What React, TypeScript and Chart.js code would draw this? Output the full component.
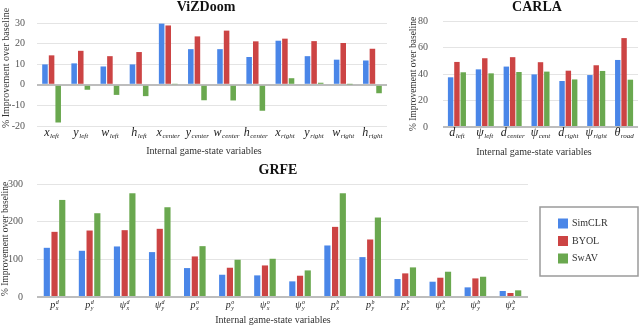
import React, { useEffect, useRef } from "react";
import { Chart, registerables } from "chart.js";

Chart.register(...registerables);

const SERIES = ["SimCLR", "BYOL", "SwAV"];
const COLORS = ["#4a86e8", "#cc4444", "#6aa84f"];

// ViZDoom
const vizCategories = ["x_left", "y_left", "w_left", "h_left", "x_center", "y_center", "w_center", "h_center", "x_right", "y_right", "w_right", "h_right"];
const vizSimCLR = [9.9, 10.4, 8.9, 9.9, 29.7, 17.3, 17.3, 13.5, 21.4, 13.9, 12.2, 11.8];
const vizBYOL = [14.3, 16.5, 13.9, 15.9, 28.8, 23.5, 26.3, 21.1, 22.4, 21.2, 20.3, 17.5];
const vizSwAV = [-18.3, -2.4, -4.9, -5.5, 0.3, -7.5, -7.6, -12.6, 3.2, 1.0, 0.2, -4.1];
const vizTicks = [-20, -10, 0, 10, 20, 30];

// CARLA
const carlaCategories = ["d_left", "ψ_left", "d_center", "ψ_cent", "d_right", "ψ_right", "θ_road"];
const carlaSimCLR = [37.5, 43.5, 45.6, 39.7, 34.7, 39.2, 50.6];
const carlaBYOL = [49.1, 51.9, 52.7, 48.9, 42.5, 46.6, 67.1];
const carlaSwAV = [41.3, 40.5, 41.5, 41.8, 35.9, 42.3, 35.7];
const carlaTicks = [0, 20, 40, 60, 80];

// GRFE
const grfeCategories = ["p_x^d", "p_y^d", "ψ_x^d", "ψ_y^d", "p_x^o", "p_y^o", "ψ_x^o", "ψ_y^o", "p_x^b", "p_y^b", "p_z^b", "ψ_x^b", "ψ_y^b", "ψ_z^b"];
const grfeSimCLR = [130.6, 122.7, 134.2, 119.2, 76.8, 59.1, 57.4, 41.5, 136.8, 105.9, 47.7, 40.6, 25.6, 15.9];
const grfeBYOL = [173, 176.5, 177.4, 181, 107.7, 77.7, 83.8, 56.5, 186.2, 152.7, 62.7, 51.2, 49.4, 10.6];
const grfeSwAV = [257.7, 222.4, 275.4, 238.3, 135, 98.9, 101.5, 70.6, 275.4, 211, 78.6, 67.1, 53.8, 17.7];
const grfeTicks = [0, 100, 200, 300];

const Y_TITLE = "% Improvement over baseline";
const X_TITLE = "Internal game-state variables";
const SERIF = '"Liberation Serif", "DejaVu Serif", serif';

function parseLabel(s: string) {
  const base = s[0];
  let sub = "";
  let sup = "";
  const m1 = s.match(/_([^\^]*)/);
  const m2 = s.match(/\^(.*)$/);
  if (m1) sub = m1[1];
  if (m2) sup = m2[1];
  return { base, sub, sup };
}

type Spec = {
  title: string;
  categories: string[];
  series: number[][];
  ticks: number[];
  left: number;
  top: number;
  width: number;
  height: number;
  padTop: number;
  padRight: number;
  yW: number;
  xH: number;
  tickPad: number;
  catPct: number;
  barPct: number;
  titlePos: [number, number];
  xTitlePos: [number, number];
  yTitlePos: [number, number];
  yTitleSize: number;
  labelY: number;
  mainSize: number;
  subSize: number;
  legend?: [number, number, number, number];
};

function BarChart({ spec }: { spec: Spec }) {
  const ref = useRef<HTMLCanvasElement>(null);
  useEffect(() => {
    const s = spec;
    const textPlugin = {
      id: "texts",
      afterDraw(chart: any) {
        const ctx = chart.ctx;
        ctx.save();
        // chart title
        ctx.fillStyle = "#111";
        ctx.font = `bold 14px ${SERIF}`;
        ctx.textAlign = "center";
        ctx.textBaseline = "middle";
        ctx.fillText(s.title, s.titlePos[0], s.titlePos[1]);
        // x title
        ctx.fillStyle = "#333";
        ctx.font = `10px ${SERIF}`;
        ctx.fillText(X_TITLE, s.xTitlePos[0], s.xTitlePos[1]);
        // y title
        ctx.save();
        ctx.translate(s.yTitlePos[0], s.yTitlePos[1]);
        ctx.rotate(-Math.PI / 2);
        ctx.font = `${s.yTitleSize}px ${SERIF}`;
        ctx.fillText(Y_TITLE, 0, 0);
        ctx.restore();
        // category labels
        const xs = chart.scales.x;
        ctx.textAlign = "left";
        ctx.textBaseline = "alphabetic";
        ctx.fillStyle = "#222";
        s.categories.forEach((c, i) => {
          const { base, sub, sup } = parseLabel(c);
          ctx.font = `italic ${s.mainSize}px ${SERIF}`;
          const wb = ctx.measureText(base).width;
          ctx.font = `italic ${s.subSize}px ${SERIF}`;
          const ws = ctx.measureText(sub).width;
          const wp = ctx.measureText(sup).width;
          const total = wb + 0.5 + Math.max(ws, wp);
          const cx = xs.getPixelForValue(i);
          const x0 = cx - total / 2;
          ctx.font = `italic ${s.mainSize}px ${SERIF}`;
          ctx.fillText(base, x0, s.labelY);
          ctx.font = `italic ${s.subSize}px ${SERIF}`;
          if (sub) ctx.fillText(sub, x0 + wb + 0.5, s.labelY + s.subSize * 0.35);
          if (sup) ctx.fillText(sup, x0 + wb + 0.5, s.labelY - s.mainSize * 0.42);
        });
        // legend
        if (s.legend) {
          const [lx, ly, lw, lh] = s.legend;
          ctx.strokeStyle = "#9a9a9a";
          ctx.lineWidth = 1.5;
          ctx.strokeRect(lx, ly, lw, lh);
          chart.data.datasets.forEach((ds: any, i: number) => {
            const cy = ly + 16.5 + i * 17.5;
            ctx.fillStyle = ds.backgroundColor;
            ctx.fillRect(lx + 18, cy - 5, 10, 10);
            ctx.fillStyle = "#333";
            ctx.font = `10px ${SERIF}`;
            ctx.textBaseline = "middle";
            ctx.fillText(ds.label, lx + 32, cy);
          });
        }
        ctx.restore();
      },
    };
    const chart = new Chart(ref.current!, {
      type: "bar",
      data: {
        labels: s.categories,
        datasets: s.series.map((d, i) => ({
          label: SERIES[i],
          data: d,
          backgroundColor: COLORS[i],
          borderWidth: 0,
          categoryPercentage: s.catPct,
          barPercentage: s.barPct,
        })),
      },
      options: {
        responsive: false,
        animation: false,
        layout: { padding: { left: 0, right: s.padRight, top: s.padTop, bottom: 0 } },
        plugins: { legend: { display: false }, tooltip: { enabled: false }, title: { display: false } },
        scales: {
          x: {
            grid: { display: false },
            border: { display: false },
            ticks: { display: false },
            afterFit: (sc: any) => {
              sc.height = s.xH;
            },
          },
          y: {
            min: s.ticks[0],
            max: s.ticks[s.ticks.length - 1],
            afterBuildTicks: (sc: any) => {
              sc.ticks = s.ticks.map((v) => ({ value: v }));
            },
            afterFit: (sc: any) => {
              sc.width = s.yW;
            },
            border: { display: false },
            grid: {
              drawTicks: false,
              color: (c: any) => (c.tick && c.tick.value === 0 ? "#bdbdbd" : "#e4e4e4"),
              lineWidth: (c: any) => (c.tick && c.tick.value === 0 ? 2 : 1),
            },
            ticks: {
              padding: s.tickPad,
              color: "#555",
              font: { family: SERIF, size: 10 },
            },
          },
        },
      } as any,
      plugins: [textPlugin],
    });
    return () => chart.destroy();
  }, [spec]);
  return (
    <canvas
      ref={ref}
      width={spec.width}
      height={spec.height}
      style={{ position: "absolute", left: spec.left, top: spec.top, width: spec.width, height: spec.height }}
    />
  );
}

const vizSpec: Spec = {
  title: "ViZDoom",
  categories: vizCategories,
  series: [vizSimCLR, vizBYOL, vizSwAV],
  ticks: vizTicks,
  left: 0, top: 0, width: 392, height: 160,
  padTop: 23, padRight: 5, yW: 37, xH: 34, tickPad: 12,
  catPct: 0.68, barPct: 0.84,
  titlePos: [206, 7], xTitlePos: [204, 151], yTitlePos: [6, 68], yTitleSize: 10,
  labelY: 136, mainSize: 12, subSize: 7,
};

const carlaSpec: Spec = {
  title: "CARLA",
  categories: carlaCategories,
  series: [carlaSimCLR, carlaBYOL, carlaSwAV],
  ticks: carlaTicks,
  left: 395, top: 0, width: 245, height: 160,
  padTop: 21, padRight: 2, yW: 48, xH: 33, tickPad: 15,
  catPct: 0.68, barPct: 0.86,
  titlePos: [142, 7], xTitlePos: [139, 152], yTitlePos: [18, 74], yTitleSize: 9.5,
  labelY: 136, mainSize: 12, subSize: 7,
};

const grfeSpec: Spec = {
  title: "GRFE",
  categories: grfeCategories,
  series: [grfeSimCLR, grfeBYOL, grfeSwAV],
  ticks: grfeTicks,
  left: 0, top: 160, width: 640, height: 166,
  padTop: 24, padRight: 112, yW: 37, xH: 29, tickPad: 14,
  catPct: 0.66, barPct: 0.8,
  titlePos: [278, 10], xTitlePos: [273, 160], yTitlePos: [5, 79], yTitleSize: 9.5,
  labelY: 148, mainSize: 10, subSize: 6,
  legend: [540, 47, 98, 69],
};

export default function App() {
  return (
    <div style={{ position: "fixed", left: 0, top: 0, width: 640, height: 326, background: "#fff" }}>
      <BarChart spec={vizSpec} />
      <BarChart spec={carlaSpec} />
      <BarChart spec={grfeSpec} />
    </div>
  );
}
